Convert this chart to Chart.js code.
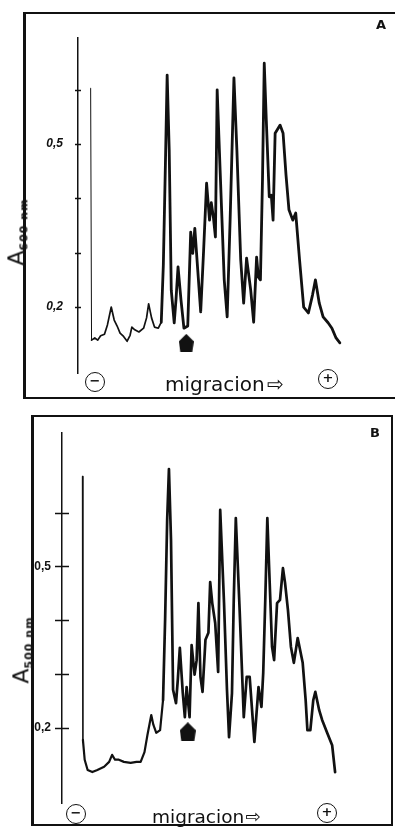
<!DOCTYPE html>
<html>
<head>
<meta charset="utf-8">
<script src="https://cdn.jsdelivr.net/npm/chart.js@4.4.0/dist/chart.umd.min.js"></script>
<style>
body { margin: 0; background: #fff; color: #111; }
#page { position: relative; width: 395px; height: 827px; overflow: hidden; }
.frame { position: absolute; border: 2px solid #111; box-sizing: border-box; }
canvas { position: absolute; left: 0; }
.pm { position: absolute; width: 20px; height: 20px; border: 1.5px solid #111; border-radius: 50%;
      box-sizing: border-box; text-align: center; line-height: 17px; font: bold 13px "DejaVu Sans";
      transform: translate(-50%, -50%); }
.mig { position: absolute; white-space: nowrap; font-family: "DejaVu Sans"; line-height: 1.164; }
.ytitle { position: absolute; transform: translate(-50%, -50%) rotate(-90deg); white-space: nowrap;
          font-family: "DejaVu Sans"; }
.ytitle sub { font-size: 11px; font-weight: bold; letter-spacing: 1px; }
.tag { position: absolute; font: bold 13px "DejaVu Sans"; }
</style>
</head>
<body>
<div id="page">
  <div class="frame" style="left:23px;top:12px;width:420px;height:387px;border-left-width:3px;border-right:none"></div>
  <div class="frame" style="left:31px;top:415px;width:362px;height:411px;border-left-width:3px"></div>

  <canvas id="chartA" width="395" height="400" style="top:0"></canvas>
  <canvas id="chartB" width="395" height="427" style="top:400px"></canvas>

  <div class="tag" style="left:376px;top:17px">A</div>
  <div class="tag" style="left:370px;top:425px">B</div>

  <div class="ytitle" style="left:17px;top:232px"><span style="font-size:22px">A</span><sub>600 nm</sub></div>
  <div class="ytitle" style="left:22px;top:650px"><span style="font-size:22px">A</span><sub>500 nm</sub></div>

  <div class="mig" style="left:165px;top:373px;font-size:20px">migracion<span style="margin-left:2px">⇨</span></div>
  <div class="mig" style="left:152px;top:806px;font-size:18.5px">migracion<span style="margin-left:1px">⇨</span></div>

  <div class="pm" style="left:95px;top:382px">−</div>
  <div class="pm" style="left:328px;top:379px">+</div>
  <div class="pm" style="left:76px;top:814px">−</div>
  <div class="pm" style="left:327px;top:813px">+</div>
</div>

<script>
// densitometer scans, migration distance (mm from axis) vs absorbance
var posA = [4.3, 4.6, 5.7, 6.7, 7.7, 9.0, 10.0, 11.3, 12.3, 13.3,
    14.3, 15.3, 16.7, 17.7, 18.3, 19.3, 20.7, 22.3, 23.3, 24.0,
    25.0, 26.0, 27.3, 28.3, 29.0, 29.7, 30.3, 31.0, 31.7, 32.7,
    33.3, 34.0, 35.0, 36.0, 37.3, 38.3, 39.0, 39.7, 40.7, 41.7,
    42.7, 43.7, 44.7, 45.3, 46.0, 46.7, 47.3, 48.3, 49.7, 50.7,
    51.7, 53.0, 54.0, 55.3, 56.3, 57.3, 58.7, 59.7, 60.7, 61.3,
    62.0, 62.7, 63.3, 64.0, 65.0, 65.7, 66.3, 67.0, 68.7, 69.7,
    70.7, 71.7, 73.0, 74.0, 75.3, 76.7, 78.3, 79.7, 80.7, 82.0,
    83.3, 85.0, 86.3, 87.7, 89.0];
var absA = [0.603, 0.139, 0.143, 0.139, 0.147, 0.150, 0.167, 0.200, 0.176, 0.165,
    0.152, 0.147, 0.137, 0.148, 0.163, 0.158, 0.154, 0.161, 0.180, 0.206,
    0.180, 0.163, 0.161, 0.172, 0.277, 0.461, 0.627, 0.489, 0.231, 0.171,
    0.213, 0.274, 0.213, 0.161, 0.165, 0.338, 0.299, 0.345, 0.268, 0.191,
    0.305, 0.428, 0.360, 0.392, 0.366, 0.329, 0.600, 0.452, 0.250, 0.182,
    0.360, 0.622, 0.489, 0.287, 0.207, 0.290, 0.231, 0.172, 0.292, 0.255,
    0.250, 0.434, 0.649, 0.544, 0.403, 0.406, 0.360, 0.520, 0.535, 0.520,
    0.443, 0.379, 0.360, 0.373, 0.287, 0.200, 0.189, 0.222, 0.250, 0.207,
    0.182, 0.171, 0.161, 0.143, 0.134];

var posB = [7.0, 7.1, 7.7, 8.7, 10.3, 12.0, 14.3, 16.0, 17.0, 18.0,
    19.3, 21.0, 23.3, 25.3, 26.7, 28.0, 29.0, 30.3, 31.0, 32.0,
    33.3, 34.3, 35.0, 35.7, 36.3, 37.0, 37.7, 38.7, 39.3, 40.0,
    41.0, 41.7, 42.3, 43.3, 44.0, 45.0, 45.7, 46.3, 47.0, 47.7,
    48.7, 49.7, 50.3, 51.0, 52.0, 53.0, 53.7, 55.0, 56.0, 56.7,
    57.7, 58.3, 59.0, 60.3, 61.7, 62.7, 63.7, 65.3, 66.7, 67.7,
    68.3, 69.0, 69.7, 70.3, 71.3, 72.0, 73.0, 74.0, 75.0, 75.7,
    76.7, 77.7, 78.7, 80.0, 81.7, 82.7, 83.3, 84.3, 85.3, 86.0,
    87.3, 88.3, 90.0, 91.7, 92.7];
var absB = [0.667, 0.178, 0.141, 0.122, 0.118, 0.122, 0.128, 0.137, 0.150, 0.141,
    0.141, 0.137, 0.135, 0.137, 0.137, 0.155, 0.187, 0.224, 0.206, 0.191,
    0.196, 0.252, 0.401, 0.587, 0.681, 0.549, 0.271, 0.246, 0.289, 0.349,
    0.265, 0.220, 0.276, 0.220, 0.354, 0.299, 0.326, 0.432, 0.295, 0.267,
    0.364, 0.377, 0.471, 0.432, 0.395, 0.304, 0.605, 0.432, 0.271, 0.183,
    0.265, 0.438, 0.590, 0.419, 0.220, 0.295, 0.295, 0.174, 0.276, 0.239,
    0.302, 0.438, 0.590, 0.499, 0.351, 0.326, 0.432, 0.438, 0.497, 0.470,
    0.419, 0.351, 0.321, 0.367, 0.321, 0.252, 0.196, 0.196, 0.252, 0.267,
    0.233, 0.215, 0.191, 0.168, 0.118];

// application point (arrow marker)
var markPosA = [36.8];
var markAbsA = [0.134];
var markPosB = [42.7];
var markAbsB = [0.193];

var yTicks = [0.2, 0.3, 0.4, 0.5, 0.6];
var yTickLabels = ["0,2", "", "", "0,5", ""];

// small cross marks through the axis line
var crossTicks = {
    id: "crossTicks",
    afterDraw: function(chart, args, opts) {
        var s = chart.scales.y;
        var ctx = chart.ctx;
        ctx.save();
        ctx.strokeStyle = "#111";
        ctx.lineWidth = 1.5;
        s.ticks.forEach(function(t) {
            var y = Math.round(s.getPixelForValue(t.value)) + 0.5;
            ctx.beginPath();
            ctx.moveTo(s.right - opts.len, y);
            ctx.lineTo(s.right + opts.len, y);
            ctx.stroke();
        });
        ctx.restore();
    }
};

function pentagon(w, h) {
    var c = document.createElement("canvas");
    c.width = w;
    c.height = h;
    var g = c.getContext("2d");
    g.fillStyle = "#111";
    g.beginPath();
    g.moveTo(w / 2, 0);
    g.lineTo(w, h * 0.42);
    g.lineTo(w - 1.5, h);
    g.lineTo(1.5, h);
    g.lineTo(0, h * 0.42);
    g.closePath();
    g.fill();
    return c;
}

function scanChart(id, pos, absorb, mPos, mAbs, o) {
    var pts = pos.map(function(x, i) { return {x: x, y: absorb[i]}; });
    var mk = mPos.map(function(x, i) { return {x: x, y: mAbs[i]}; });
    return new Chart(document.getElementById(id), {
        type: "scatter",
        data: {
            datasets: [
                {
                    data: pts,
                    showLine: true,
                    borderColor: "#111",
                    borderWidth: o.lw,
                    pointRadius: 0,
                    tension: 0,
                    borderJoinStyle: "round",
                    borderCapStyle: "round",
                    segment: {
                        borderWidth: function(ctx) {
                            if (ctx.p0DataIndex === 0) return o.lw0;
                            return pos[ctx.p0DataIndex] < o.thinUntil ? o.lw1 : o.lw;
                        }
                    }
                },
                {
                    data: mk,
                    showLine: false,
                    pointStyle: pentagon(o.mw, o.mh),
                    pointRadius: 10
                }
            ]
        },
        options: {
            responsive: false,
            animation: false,
            layout: { padding: o.pad },
            plugins: {
                legend: { display: false },
                tooltip: { enabled: false },
                crossTicks: { len: o.tickLen }
            },
            scales: {
                x: { type: "linear", display: false, min: 0, max: o.xMax },
                y: {
                    min: o.yMin,
                    max: o.yMax,
                    afterFit: function(s) { s.width = 60; },
                    afterBuildTicks: function(s) {
                        s.ticks = yTicks.map(function(v) { return {value: v}; });
                    },
                    grid: { display: false, drawTicks: false },
                    border: { display: true, color: "#111", width: 1.5 },
                    ticks: {
                        callback: function(v, i) { return yTickLabels[i]; },
                        padding: o.labelPad,
                        color: "#111",
                        font: o.font
                    }
                }
            }
        },
        plugins: [crossTicks]
    });
}

scanChart("chartA", posA, absA, markPosA, markAbsA, {
    lw: 2.8, lw0: 1, lw1: 1.7, thinUntil: 28,
    mw: 15, mh: 18,
    pad: { left: 18, top: 38, right: 5, bottom: 27 },
    xMax: 104, yMin: 0.0785, yMax: 0.6954,
    tickLen: 3, labelPad: 15,
    font: { family: "Liberation Sans", size: 12, weight: "bold", style: "italic" }
});

scanChart("chartB", posB, absB, markPosB, markAbsB, {
    lw: 2.7, lw0: 1.6, lw1: 2.2, thinUntil: 34,
    mw: 16, mh: 19,
    pad: { left: 2, top: 33, right: 5, bottom: 24 },
    xMax: 109.3, yMin: 0.0606, yMax: 0.748,
    tickLen: 7, labelPad: 11,
    font: { family: "Liberation Sans", size: 12, weight: "bold" }
});
</script>
</body>
</html>
